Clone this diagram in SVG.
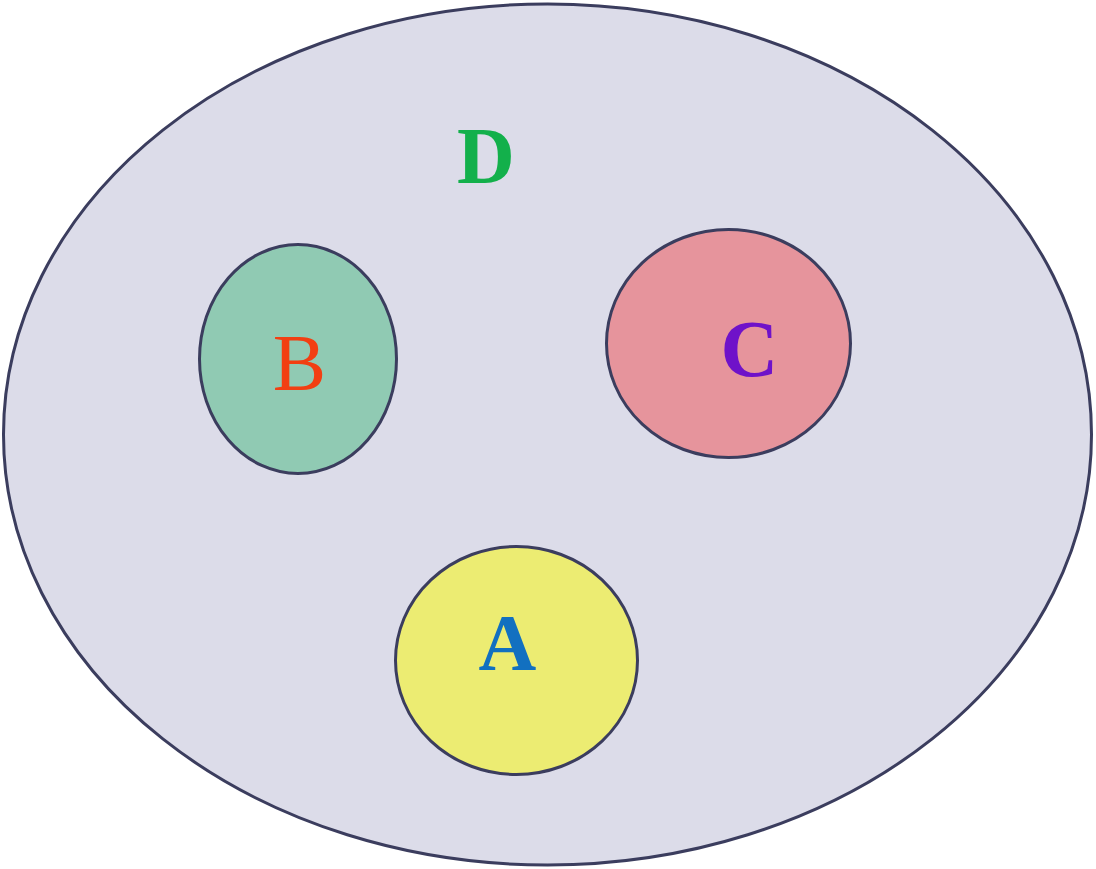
<svg xmlns="http://www.w3.org/2000/svg" width="1096" height="869" viewBox="0 0 1096 869">
<style>
.set{stroke:#3b3d5e;stroke-width:3}
text{font-family:'Liberation Serif','DejaVu Serif',serif;font-size:80px;text-anchor:middle}
</style>
<rect width="1096" height="869" fill="#ffffff"/>
<g id="D">
<ellipse class="set" cx="547.5" cy="434.5" rx="544" ry="430.5" fill="#dcdce9"/>
<text x="486" y="183" fill="#13b04b" font-weight="bold">D</text>
</g>
<g id="B">
<ellipse class="set" cx="298" cy="359" rx="98.5" ry="114.5" fill="#90cab3"/>
<text x="299.5" y="390" fill="#f23f12">B</text>
</g>
<g id="C">
<ellipse class="set" cx="728.5" cy="343.5" rx="122" ry="114" fill="#e6949c"/>
<text x="749.5" y="376" fill="#6f12c9" font-weight="bold">C</text>
</g>
<g id="A">
<ellipse class="set" cx="516.5" cy="660.5" rx="121" ry="114" fill="#ecec72"/>
<text x="507.5" y="670" fill="#1270c0" font-weight="bold">A</text>
</g>
<g id="connectors"/>
</svg>
